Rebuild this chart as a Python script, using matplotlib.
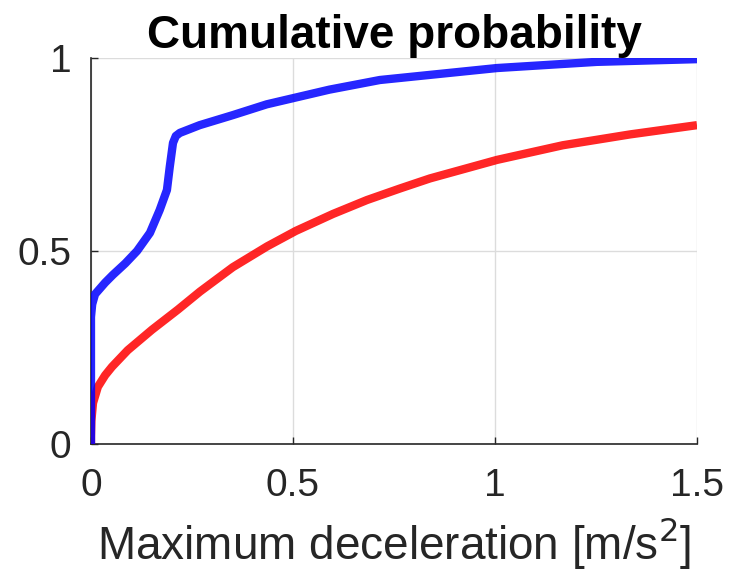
import matplotlib
matplotlib.use("Agg")
import matplotlib.pyplot as plt

plt.rcParams['font.family'] = ['Liberation Sans', 'DejaVu Sans']

# Blue curve
blue_x = [0.0, 0.0, 0.0, 0.003, 0.01, 0.035, 0.054, 0.085, 0.114, 0.146, 0.170,
          0.188, 0.195, 0.203, 0.210, 0.220, 0.269, 0.351, 0.435, 0.59, 0.715,
          1.005, 1.252, 1.5]
blue_y = [0.0, 0.20, 0.329, 0.362, 0.388, 0.418, 0.438, 0.468, 0.50, 0.547, 0.606,
          0.658, 0.718, 0.780, 0.798, 0.806, 0.826, 0.852, 0.880, 0.918, 0.943,
          0.974, 0.990, 0.997]

# Red curve
red_x = [0.0, 0.0, 0.001, 0.005, 0.017, 0.035, 0.052, 0.091, 0.151, 0.215, 0.270,
         0.351, 0.436, 0.507, 0.599, 0.683, 0.765, 0.839, 1.005, 1.168, 1.334, 1.5]
red_y = [0.0, 0.02, 0.06, 0.106, 0.148, 0.178, 0.20, 0.243, 0.296, 0.348, 0.395,
         0.458, 0.512, 0.552, 0.596, 0.632, 0.662, 0.688, 0.736, 0.774, 0.802, 0.826]

x_ticks = [0, 0.5, 1, 1.5]
x_labels = ['0', '0.5', '1', '1.5']
y_ticks = [0, 0.5, 1]
y_labels = ['0', '0.5', '1']

fig = plt.figure(figsize=(7.29, 5.80), dpi=100)
ax = fig.add_axes([0.1248, 0.2345, 0.8313, 0.6655])

ax.plot(red_x, red_y, color='#ff0000', lw=6, alpha=0.85, solid_capstyle='butt',
        solid_joinstyle='round', zorder=3)
ax.plot(blue_x, blue_y, color='#0000ff', lw=6, alpha=0.85, solid_capstyle='butt',
        solid_joinstyle='round', zorder=4)

ax.set_xlim(0, 1.5)
ax.set_ylim(0, 1)
ax.set_xticks(x_ticks)
ax.set_xticklabels(x_labels)
ax.set_yticks(y_ticks)
ax.set_yticklabels(y_labels)

ax.grid(True, color='#dcdcdc', lw=1.0)
ax.set_axisbelow(True)
for side in ['top', 'right']:
    ax.spines[side].set_visible(False)
for side in ['left', 'bottom']:
    ax.spines[side].set_color('#262626')
    ax.spines[side].set_linewidth(1.2)

ax.tick_params(axis='both', direction='in', length=5, width=1.0, colors='#262626',
               labelsize=28, labelcolor='#262626')
ax.tick_params(axis='x', pad=17)
ax.tick_params(axis='y', pad=14)

ax.set_xlabel('Maximum deceleration [m/s$^2$]', fontsize=33, color='#262626', labelpad=8)
ax.set_title('Cumulative probability', fontsize=33, fontweight='bold', color='black', pad=5)

fig.savefig('out.png', dpi=100)
